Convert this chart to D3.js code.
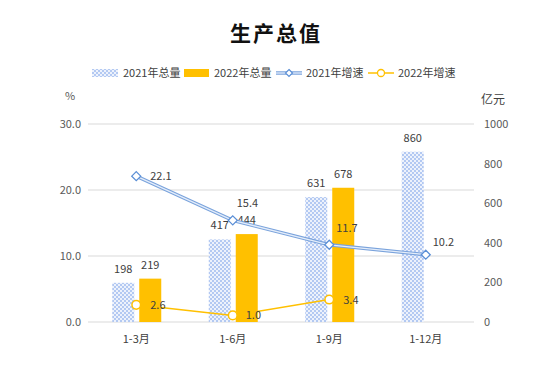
<!DOCTYPE html>
<html><head><meta charset="utf-8">
<script src="https://cdn.jsdelivr.net/npm/d3@7"></script>
<style>
body{margin:0;background:#fff;}
text{font-family:"Noto Sans CJK SC","Liberation Sans",sans-serif;}
</style></head>
<body><svg id="c" width="548" height="380"></svg>
<script>
const categories = ["1-3月","1-6月","1-9月","1-12月"];
const total2021 = [198,417,631,860];
const total2022 = [219,444,678,null];
const growth2021 = [22.1,15.4,11.7,10.2];
const growth2022 = [2.6,1.0,3.4,null];
const leftTicks = [0,10,20,30];
const rightTicks = [0,200,400,600,800,1000];
const legendLabels = ["2021年总量","2022年总量","2021年增速","2022年增速"];

const svg = d3.select("#c");
const W=548,H=380;
const m={l:88,r:74,t:124,b:58};
const x = d3.scaleBand().domain(categories).range([m.l, W-m.r]);
const yL = d3.scaleLinear().domain([0,30]).range([H-m.b, m.t]);
const yR = d3.scaleLinear().domain([0,1000]).range([H-m.b, m.t]);
const cx = c => x(c)+x.bandwidth()/2;
const txt="#404040";

const defs = svg.append("defs");
const pat = defs.append("pattern").attr("id","chk").attr("patternUnits","userSpaceOnUse").attr("width",4).attr("height",4);
pat.append("rect").attr("width",4).attr("height",4).attr("fill","#edf2fc");
pat.append("rect").attr("width",2).attr("height",2).attr("fill","#b3c9f2");
pat.append("rect").attr("x",2).attr("y",2).attr("width",2).attr("height",2).attr("fill","#b3c9f2");

// title
svg.append("text").attr("x",276).attr("y",41).attr("text-anchor","middle")
  .attr("font-size",21).attr("font-weight","bold").attr("letter-spacing",2).attr("fill","#111").text("生产总值");

// gridlines
svg.append("g").selectAll("line").data(leftTicks).join("line")
  .attr("x1",m.l).attr("x2",W-m.r).attr("y1",d=>yL(d)).attr("y2",d=>yL(d))
  .attr("stroke","#d9d9d9").attr("stroke-width",1);

// axes
const gl = svg.append("g").attr("transform",`translate(${m.l-4},0)`)
  .call(d3.axisLeft(yL).tickValues(leftTicks).tickFormat(d3.format(".1f")).tickSize(0));
gl.select(".domain").remove();
gl.selectAll("text").attr("font-size",11).attr("fill","#595959").attr("font-family","Liberation Sans, sans-serif");
const gr = svg.append("g").attr("transform",`translate(${W-m.r+7},0)`)
  .call(d3.axisRight(yR).tickValues(rightTicks).tickFormat(d3.format("d")).tickSize(0));
gr.select(".domain").remove();
gr.selectAll("text").attr("font-size",11).attr("fill","#595959").attr("font-family","Liberation Sans, sans-serif");
const gx = svg.append("g").attr("transform",`translate(0,${H-m.b+10})`)
  .call(d3.axisBottom(x).tickSize(0));
gx.select(".domain").remove();
gx.selectAll("text").attr("font-size",11).attr("fill","#404040");

svg.append("text").attr("x",65).attr("y",100).attr("font-size",11).attr("fill","#595959").text("%");
svg.append("text").attr("x",481).attr("y",104).attr("font-size",12).attr("fill","#404040").text("亿元");

// bars
const bw=22;
svg.append("g").selectAll("rect").data(categories).join("rect")
  .attr("x",c=>cx(c)-24).attr("width",bw)
  .attr("y",(c,i)=>yR(total2021[i])).attr("height",(c,i)=>yR(0)-yR(total2021[i]))
  .attr("fill","url(#chk)");
const c22 = categories.filter((c,i)=>total2022[i]!=null);
svg.append("g").selectAll("rect").data(c22).join("rect")
  .attr("x",c=>cx(c)+3).attr("width",bw)
  .attr("y",c=>yR(total2022[categories.indexOf(c)])).attr("height",c=>yR(0)-yR(total2022[categories.indexOf(c)]))
  .attr("fill","#ffc000");

// bar labels
const lab = svg.append("g").attr("font-size",11).attr("fill",txt).attr("text-anchor","middle").attr("font-family","Liberation Sans, sans-serif");
categories.forEach((c,i)=>{
  lab.append("text").attr("x",cx(c)-13).attr("y",yR(total2021[i])-10).text(total2021[i]);
  if(total2022[i]!=null) lab.append("text").attr("x",cx(c)+14).attr("y",yR(total2022[i])-10).text(total2022[i]);
});

// lines
const d21 = categories.map((c,i)=>[cx(c),yL(growth2021[i])]);
const line = d3.line();
svg.append("path").attr("d",line(d21)).attr("fill","none").attr("stroke","#7aa3dc").attr("stroke-width",3.5);
svg.append("path").attr("d",line(d21)).attr("fill","none").attr("stroke","#e4edfa").attr("stroke-width",1.3);
const d22 = categories.map((c,i)=>growth2022[i]==null?null:[cx(c),yL(growth2022[i])]).filter(d=>d);
svg.append("path").attr("d",line(d22)).attr("fill","none").attr("stroke","#ffc000").attr("stroke-width",1.5);

svg.append("g").selectAll("path").data(d21).join("path")
  .attr("transform",d=>`translate(${d[0]},${d[1]})`)
  .attr("d","M0,-4.5L4.5,0L0,4.5L-4.5,0Z").attr("fill","#fff").attr("stroke","#5b8fd6").attr("stroke-width",1.3);
svg.append("g").selectAll("circle").data(d22).join("circle")
  .attr("cx",d=>d[0]).attr("cy",d=>d[1]).attr("r",4.3).attr("fill","#fff").attr("stroke","#ffc000").attr("stroke-width",1.5);

// line labels
const ll = svg.append("g").attr("font-size",11).attr("fill",txt).attr("font-family","Liberation Sans, sans-serif");
const off21 = [[14,4],[4,-13],[7,-13],[7,-9]];
categories.forEach((c,i)=>{
  ll.append("text").attr("x",cx(c)+off21[i][0]).attr("y",yL(growth2021[i])+off21[i][1]).text(growth2021[i].toFixed(1));
  if(growth2022[i]!=null) ll.append("text").attr("x",cx(c)+(i==1?13:14)).attr("y",yL(growth2022[i])+4).text(growth2022[i].toFixed(1));
});

// legend
const lg = svg.append("g").attr("font-size",11).attr("fill",txt);
const ly=73;
lg.append("rect").attr("x",92).attr("y",ly-4).attr("width",26).attr("height",8).attr("fill","url(#chk)");
lg.append("text").attr("x",123).attr("y",ly+4).text(legendLabels[0]);
lg.append("rect").attr("x",184).attr("y",ly-4).attr("width",25).attr("height",8).attr("fill","#ffc000");
lg.append("text").attr("x",214).attr("y",ly+4).text(legendLabels[1]);
lg.append("line").attr("x1",276).attr("x2",302).attr("y1",ly).attr("y2",ly).attr("stroke","#7aa3dc").attr("stroke-width",3.5);
lg.append("line").attr("x1",276).attr("x2",302).attr("y1",ly).attr("y2",ly).attr("stroke","#e4edfa").attr("stroke-width",1.3);
lg.append("path").attr("transform",`translate(289,${ly})`).attr("d","M0,-3.5L3.5,0L0,3.5L-3.5,0Z").attr("fill","#fff").attr("stroke","#5b8fd6").attr("stroke-width",1.2);
lg.append("text").attr("x",306).attr("y",ly+4).text(legendLabels[2]);
lg.append("line").attr("x1",368).attr("x2",394).attr("y1",ly).attr("y2",ly).attr("stroke","#ffc000").attr("stroke-width",1.5);
lg.append("circle").attr("cx",381).attr("cy",ly).attr("r",3.5).attr("fill","#fff").attr("stroke","#ffc000").attr("stroke-width",1.3);
lg.append("text").attr("x",398).attr("y",ly+4).text(legendLabels[3]);
</script></body></html>
